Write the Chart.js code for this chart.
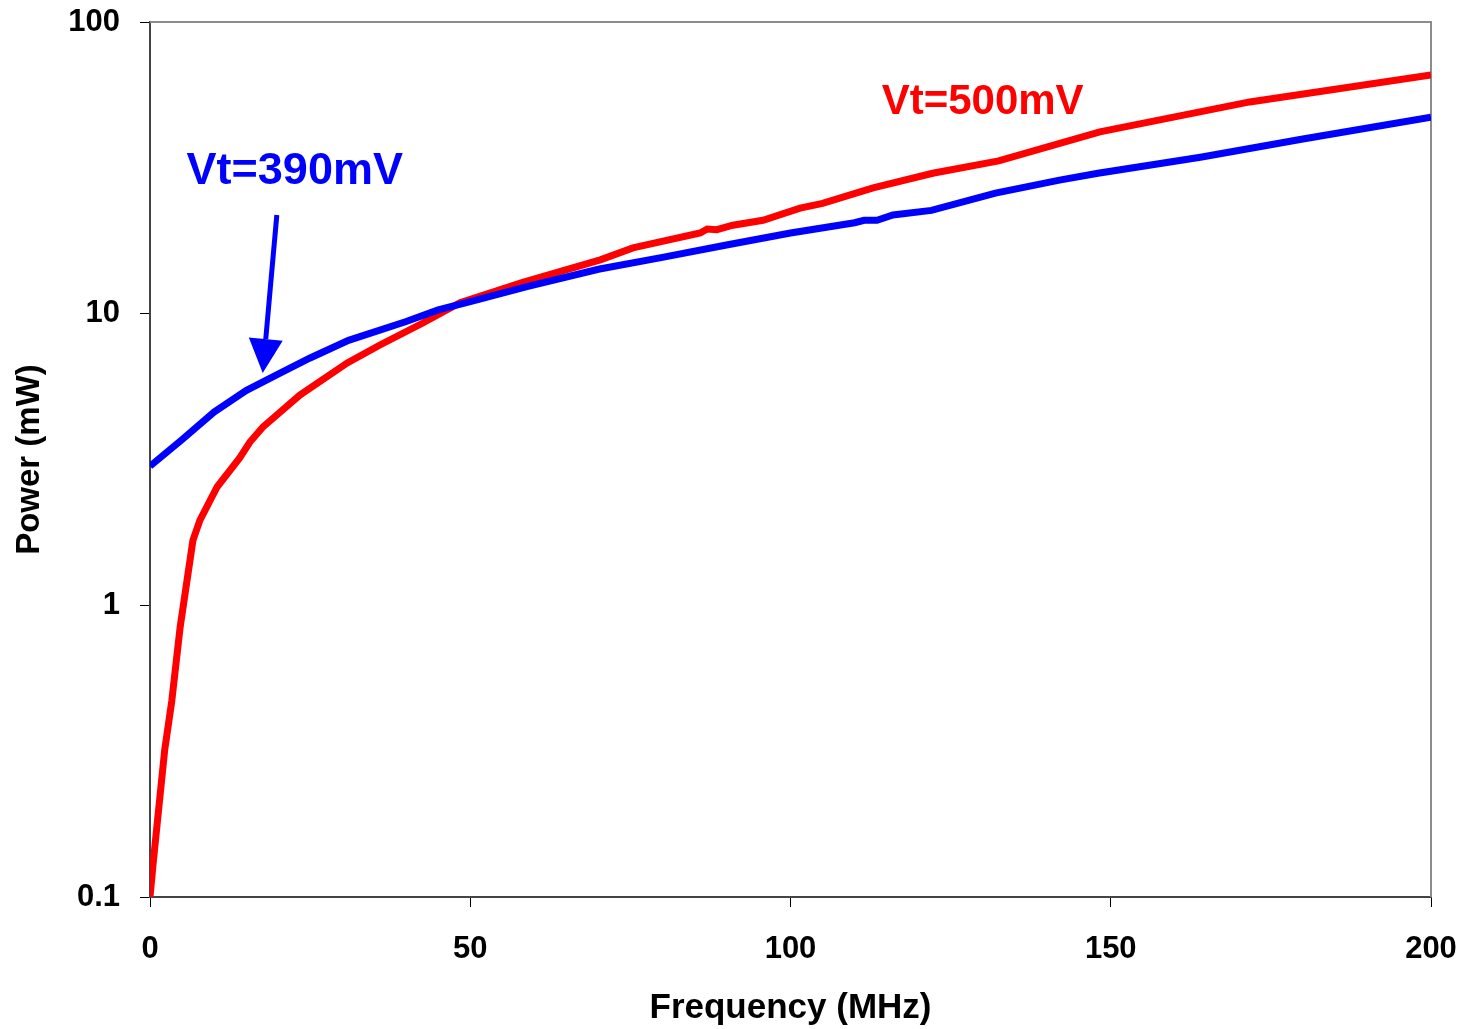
<!DOCTYPE html>
<html>
<head>
<meta charset="utf-8">
<script src="https://cdn.jsdelivr.net/npm/chart.js@4.4.1/dist/chart.umd.min.js"></script>
<style>
  html, body { margin: 0; padding: 0; background: #fff; }
</style>
</head>
<body>
<canvas id="myChart" width="1467" height="1029"></canvas>
<script>
// Vt = 390 mV (blue)
let freq390 = [0, 5, 10, 15, 20, 25, 31, 40, 45, 50, 59, 70, 80, 90, 100, 110, 111.5, 113.5, 116, 122, 132, 142, 148, 164, 180, 200];
let power390 = [3.0, 3.7, 4.6, 5.45, 6.2, 7.05, 8.1, 9.4, 10.3, 11.0, 12.4, 14.2, 15.6, 17.2, 18.9, 20.5, 20.9, 20.9, 21.8, 22.6, 25.9, 28.7, 30.3, 34.4, 39.7, 47.2];

// Vt = 500 mV (red)
let freq500 = [0, 0.5, 2.3, 3.4, 4.7, 6.7, 7.8, 10.5, 14, 15.6, 17.6, 23.4, 30.8, 35.9, 42.6, 48.4, 58.2, 70.3, 75.4, 85.9, 87, 88.5, 91, 95.7, 101.5, 105, 112.9, 122.2, 132.5, 148.3, 171.7, 200];
let power500 = [0.1, 0.131, 0.32, 0.47, 0.84, 1.67, 1.96, 2.55, 3.2, 3.63, 4.08, 5.26, 6.78, 7.81, 9.29, 10.9, 12.8, 15.3, 16.8, 18.9, 19.5, 19.4, 20.1, 20.9, 23.0, 23.9, 27.0, 30.3, 33.4, 42.0, 53.2, 65.8];

let yTicks = [0.1, 1, 10, 100];
let xTicks = [0, 50, 100, 150, 200];

const BLUE = '#0000ff';
const RED = '#ff0000';
const FONT = '"Liberation Sans", Arial, sans-serif';

function toPoints(xs, ys) {
  return xs.map((v, i) => ({ x: v, y: ys[i] }));
}

// chart area frame + labels + arrow
const extras = {
  id: 'extras',
  beforeDatasetsDraw(chart) {
    const a = chart.chartArea;
    const ctx = chart.ctx;
    ctx.save();
    ctx.strokeStyle = '#8c8c8c';
    ctx.lineWidth = 2;
    ctx.beginPath();
    ctx.moveTo(a.left, a.top);
    ctx.lineTo(a.right, a.top);
    ctx.lineTo(a.right, a.bottom);
    ctx.stroke();
    ctx.restore();
  },
  afterDatasetsDraw(chart) {
    const ctx = chart.ctx;
    const x = chart.scales.x, y = chart.scales.y;
    ctx.save();
    ctx.textAlign = 'center';
    ctx.textBaseline = 'middle';

    ctx.fillStyle = BLUE;
    ctx.font = 'bold 45px ' + FONT;
    ctx.fillText('Vt=390mV', x.getPixelForValue(22.6), y.getPixelForValue(30.6));

    ctx.fillStyle = RED;
    ctx.font = 'bold 42px ' + FONT;
    ctx.fillText('Vt=500mV', x.getPixelForValue(130), y.getPixelForValue(53.2));

    // arrow pointing at the blue curve
    let x0 = x.getPixelForValue(19.8), y0 = y.getPixelForValue(21.8);
    let x1 = x.getPixelForValue(17.6), y1 = y.getPixelForValue(6.26);
    let ang = Math.atan2(y1 - y0, x1 - x0);
    let headLen = 34, headW = 17;
    let bx = x1 - headLen * Math.cos(ang), by = y1 - headLen * Math.sin(ang);
    ctx.strokeStyle = BLUE;
    ctx.fillStyle = BLUE;
    ctx.lineWidth = 5;
    ctx.beginPath();
    ctx.moveTo(x0, y0);
    ctx.lineTo(bx, by);
    ctx.stroke();
    ctx.beginPath();
    ctx.moveTo(x1, y1);
    ctx.lineTo(bx + headW * Math.sin(ang), by - headW * Math.cos(ang));
    ctx.lineTo(bx - headW * Math.sin(ang), by + headW * Math.cos(ang));
    ctx.closePath();
    ctx.fill();
    ctx.restore();
  }
};

new Chart(document.getElementById('myChart'), {
  type: 'scatter',
  data: {
    datasets: [
      {
        label: 'Vt=390mV',
        data: toPoints(freq390, power390),
        showLine: true,
        borderColor: BLUE,
        borderWidth: 7,
        pointRadius: 0,
        tension: 0,
        fill: false
      },
      {
        label: 'Vt=500mV',
        data: toPoints(freq500, power500),
        showLine: true,
        borderColor: RED,
        borderWidth: 7,
        pointRadius: 0,
        tension: 0,
        fill: false
      }
    ]
  },
  options: {
    responsive: false,
    animation: false,
    layout: { padding: { top: 22, right: 36, left: 0, bottom: 0 } },
    plugins: {
      legend: { display: false },
      tooltip: { enabled: false }
    },
    scales: {
      x: {
        type: 'linear',
        min: 0,
        max: 200,
        afterBuildTicks: s => { s.ticks = xTicks.map(v => ({ value: v })); },
        afterFit: s => { s.height = 132; s.paddingLeft = 0; s.paddingRight = 0; },
        border: { display: true, color: '#444', width: 2 },
        grid: { drawOnChartArea: false, drawTicks: true, tickLength: 10, color: '#000', lineWidth: 1 },
        ticks: {
          color: '#000',
          padding: 24,
          maxRotation: 0,
          font: { family: FONT, size: 31, weight: 'bold' }
        },
        title: {
          display: true,
          text: 'Frequency (MHz)',
          color: '#000',
          padding: { top: 0, bottom: 0 },
          font: { family: FONT, size: 35, weight: 'bold' }
        }
      },
      y: {
        type: 'logarithmic',
        min: 0.1,
        max: 100,
        afterBuildTicks: s => { s.ticks = yTicks.map(v => ({ value: v })); },
        afterFit: s => { s.width = 150; s.paddingTop = 0; s.paddingBottom = 0; },
        border: { display: true, color: '#444', width: 2 },
        grid: { drawOnChartArea: false, drawTicks: true, tickLength: 10, color: '#000', lineWidth: 1 },
        ticks: {
          color: '#000',
          padding: 20,
          font: { family: FONT, size: 31, weight: 'bold' },
          callback: v => String(v)
        },
        title: {
          display: true,
          text: 'Power (mW)',
          color: '#000',
          padding: { top: 10, bottom: 10 },
          font: { family: FONT, size: 33, weight: 'bold' }
        }
      }
    }
  },
  plugins: [extras]
});
</script>
</body>
</html>
